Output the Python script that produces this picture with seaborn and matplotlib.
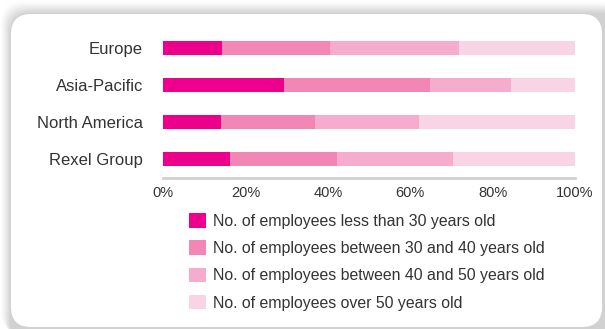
import numpy as np
import pandas as pd
import matplotlib
matplotlib.use("Agg")
import matplotlib.pyplot as plt
from matplotlib.patches import FancyBboxPatch, Patch
import seaborn as sns

# Age breakdown of the workforce by region (share of employees, %)
regions = ["Europe", "Asia-Pacific", "North America", "Rexel Group"]
under_30 = [14.3, 29.4, 14.1, 16.3]
from_30_to_40 = [26.2, 35.4, 22.8, 25.9]
from_40_to_50 = [31.3, 19.7, 25.2, 28.2]
over_50 = [28.2, 15.5, 37.9, 29.6]

series_labels = [
    "No. of employees less than 30 years old",
    "No. of employees between 30 and 40 years old",
    "No. of employees between 40 and 50 years old",
    "No. of employees over 50 years old",
]
colors = ["#EC008C", "#F287B5", "#F5ACCD", "#F9D4E5"]
tick_values = [0, 20, 40, 60, 80, 100]
tick_labels = ["0%", "20%", "40%", "60%", "80%", "100%"]

sns.set_theme(style="white")
plt.rcParams["font.family"] = ["Liberation Sans", "DejaVu Sans"]

W, H = 605, 329
fig = plt.figure(figsize=(W / 100, H / 100), dpi=100)
fig.patch.set_facecolor("white")

# Card with a soft shadow behind it
bg = fig.add_axes([0, 0, 1, 1])
bg.set_xlim(0, W)
bg.set_ylim(H, 0)
bg.axis("off")
for i in range(12, 0, -1):
    g = 0.78 + 0.018 * i
    bg.add_patch(FancyBboxPatch((11 - i * 0.9, 14 - i * 1.1), 620, 330,
                                boxstyle="round,pad=0,rounding_size=22",
                                fc=(g, g, g), ec="none", alpha=0.4, zorder=1))
bg.add_patch(FancyBboxPatch((11, 14), 591, 313,
                            boxstyle="round,pad=0,rounding_size=20",
                            fc="white", ec="none", zorder=2))

# Plot area in pixel coordinates
x0, x1 = 163, 575
y_top, y_bot = 30, 178
ax = fig.add_axes([x0 / W, 1 - y_bot / H, (x1 - x0) / W, (y_bot - y_top) / H])
ax.set_facecolor("none")

segments = [under_30, from_30_to_40, from_40_to_50, over_50]
cum = np.cumsum(np.array(segments), axis=0)
# Draw the stacks from the longest cumulative bar down so each segment shows
for k in range(3, -1, -1):
    df = pd.DataFrame({"region": regions, "value": cum[k]})
    sns.barplot(data=df, x="value", y="region", order=regions, color=colors[k],
                orient="h", width=0.4, saturation=1, ax=ax, edgecolor="none",
                linewidth=0)

ax.set_xlim(0, 100)
ax.set_ylim(3 + (y_bot - 159) / 37, -(48 - y_top) / 37)
ax.set_xlabel("")
ax.set_ylabel("")
ax.set_xticks(tick_values)
ax.set_xticklabels(tick_labels)
for s in ["top", "right", "left"]:
    ax.spines[s].set_visible(False)
ax.spines["bottom"].set_color("#D0D0D0")
ax.spines["bottom"].set_linewidth(2)
ax.tick_params(axis="x", colors="#D0D0D0", length=5, width=1, direction="out",
               labelcolor="#333333", labelsize=10.5, pad=1)
ax.tick_params(axis="y", length=0, labelcolor="#333333", labelsize=12, pad=14.5)

handles = [Patch(facecolor=c, edgecolor="none") for c in colors]
leg = fig.legend(handles, series_labels, loc="upper left",
                 bbox_to_anchor=(183 / W, 1 - 207 / H), frameon=False,
                 fontsize=11.4, handlelength=1.05, handleheight=1.05,
                 handletextpad=0.42, labelspacing=0.72, borderaxespad=0)
for t in leg.get_texts():
    t.set_color("#333333")

fig.savefig("out.png", dpi=100, facecolor="white")
